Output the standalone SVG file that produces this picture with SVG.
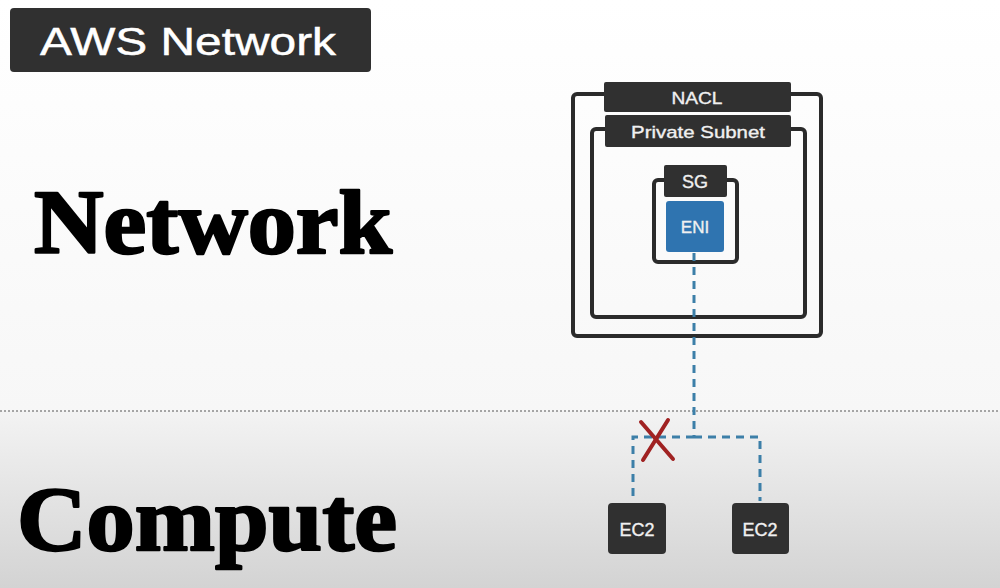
<svg xmlns="http://www.w3.org/2000/svg" width="1000" height="588" viewBox="0 0 1000 588">
<defs>
<linearGradient id="bgTop" x1="0" y1="0" x2="0" y2="1">
<stop offset="0" stop-color="#ffffff"/>
<stop offset="1" stop-color="#f7f7f7"/>
</linearGradient>
<linearGradient id="bgBot" x1="0" y1="0" x2="0" y2="1">
<stop offset="0" stop-color="#f3f3f3"/>
<stop offset="1" stop-color="#d3d3d3"/>
</linearGradient>
<style>
.dark{fill:#303030}
.frame{fill:none;stroke:#2b2b2b;stroke-width:4}
.lbl{font-family:"Liberation Sans",Arial,sans-serif;fill:#f0f0f0;stroke:#f0f0f0;stroke-width:0.35;text-anchor:middle}
.big{font-family:"Liberation Serif","Times New Roman",serif;font-weight:bold;fill:#000;stroke:#000;stroke-width:2.4;stroke-linejoin:round}
.link{fill:none;stroke:#3c7fa8;stroke-width:3;stroke-dasharray:8 6}
</style>
</defs>
<rect x="0" y="0" width="1000" height="411" fill="url(#bgTop)"/>
<rect x="0" y="411" width="1000" height="177" fill="url(#bgBot)"/>
<line x1="0" y1="411" x2="1000" y2="411" stroke="#8a8a8a" stroke-width="1.5" stroke-dasharray="2 2"/>

<g id="title">
<rect x="10" y="8" width="361" height="64" rx="4" class="dark"/>
<text x="40" y="55" font-family="'Liberation Sans',Arial,sans-serif" font-size="39" fill="#fff" stroke="#fff" stroke-width="0.5" textLength="296" lengthAdjust="spacingAndGlyphs">AWS Network</text>
</g>

<g id="label-network">
<text x="34" y="253" class="big" font-size="90" textLength="358" lengthAdjust="spacingAndGlyphs">Network</text>
</g>
<g id="label-compute">
<text x="17" y="550" class="big" font-size="92" textLength="380" lengthAdjust="spacingAndGlyphs">Compute</text>
</g>

<g id="nacl">
<rect x="573" y="94" width="248" height="242" rx="4" class="frame"/>
<rect x="604" y="82" width="187" height="30" rx="2" class="dark"/>
<text x="697" y="104" class="lbl" font-size="17" textLength="51" lengthAdjust="spacingAndGlyphs">NACL</text>
</g>

<g id="private-subnet">
<rect x="592" y="129" width="213" height="188" rx="4" class="frame"/>
<rect x="605" y="115" width="186" height="32" rx="2" class="dark"/>
<text x="698" y="138" class="lbl" font-size="17" textLength="134" lengthAdjust="spacingAndGlyphs">Private Subnet</text>
</g>

<g id="sg">
<rect x="654" y="180" width="83" height="82" rx="4" class="frame"/>
<rect x="664" y="165" width="63" height="32" rx="2" class="dark"/>
<text x="695" y="188" class="lbl" font-size="18">SG</text>
</g>

<g id="eni">
<rect x="666" y="201" width="58" height="51" rx="3" fill="#2f74b0"/>
<text x="695" y="233" class="lbl" font-size="17">ENI</text>
</g>

<g id="connectors">
<path class="link" d="M694 253 V437"/>
<path class="link" d="M694 437 H633 V501"/>
<path class="link" d="M694 437 H760 V501"/>
<g stroke="#a02222" stroke-width="4" stroke-linecap="round">
<line x1="641" y1="422" x2="673" y2="459"/>
<line x1="668" y1="420" x2="643" y2="460"/>
</g>
</g>

<g id="ec2-left">
<rect x="608" y="503" width="58" height="51" rx="4" class="dark"/>
<text x="637" y="536" class="lbl" font-size="18">EC2</text>
</g>
<g id="ec2-right">
<rect x="732" y="503" width="57" height="51" rx="4" class="dark"/>
<text x="760" y="536" class="lbl" font-size="18">EC2</text>
</g>
</svg>
